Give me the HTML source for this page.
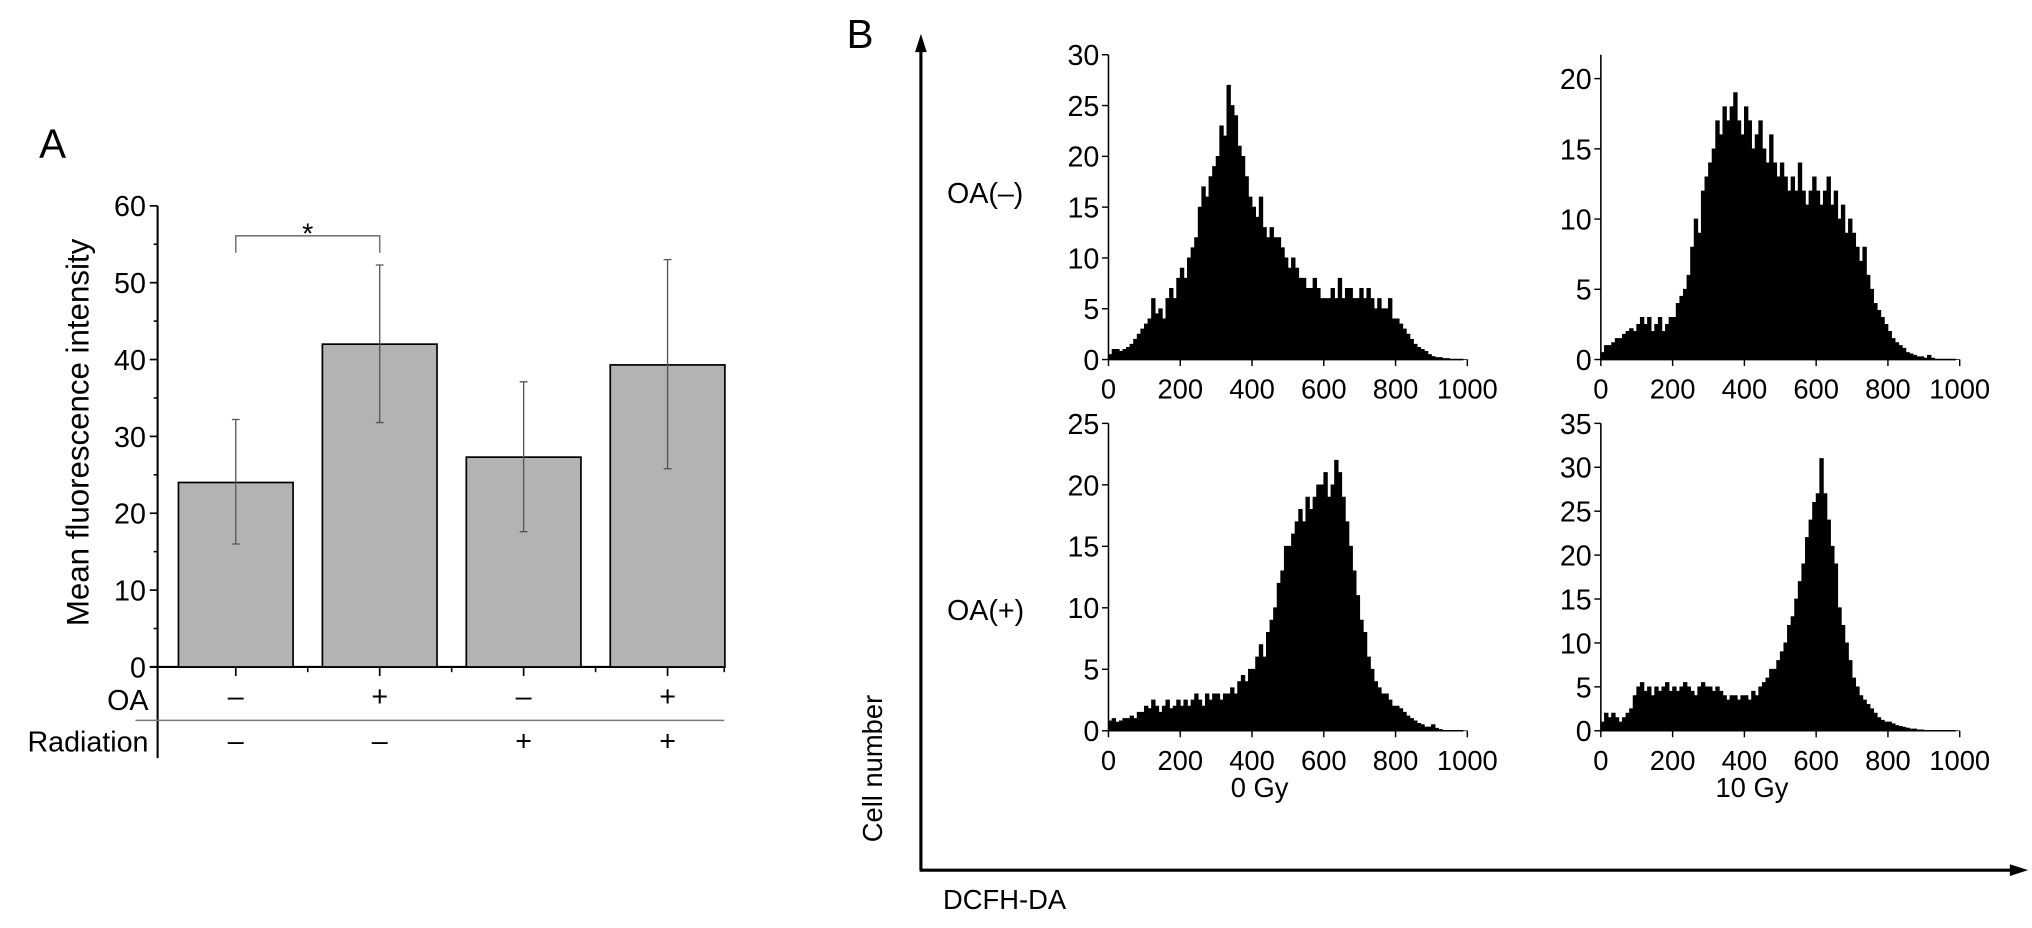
<!DOCTYPE html>
<html><head><meta charset="utf-8"><style>
html,body{margin:0;padding:0;background:#fff;}
svg{display:block;font-family:"Liberation Sans Narrow","Liberation Sans",sans-serif;}
</style></head><body>
<svg id="fig" width="2032" height="928" viewBox="0 0 1560 712.4" xmlns="http://www.w3.org/2000/svg">
<g id="panelA"></g>
<g id="panelB"></g>
</svg>
<script>
// ---------- Panel A data ----------
const barCategories = ["OA-/Rad-", "OA+/Rad-", "OA-/Rad+", "OA+/Rad+"];
const barValues = [24.0, 42.0, 27.3, 39.3];
const errLow = [16.0, 31.8, 17.6, 25.8];
const errHigh = [32.2, 52.3, 37.1, 53.0];
const oaSigns = ["\u2013", "+", "\u2013", "+"];
const radSigns = ["\u2013", "\u2013", "+", "+"];
const yTicksA = [0, 10, 20, 30, 40, 50, 60];

// ---------- Panel B data (bins of 10 units, 0..1000) ----------
const histTL = [0.5,1,1,0.8,1,1.2,1.5,2,2.5,3, 3.5,4,6,4.5,5,4,6,7,6,8, 9,8,10,11,12,15,17,16,18,19, 20,23,22,27,25,24,21,20,18,16, 15,14,16,13,12,13,12,12,11,10, 9,10,9,8,8,7,7,8,7,6, 6,6,7,6,8,6,7,7,6,6, 7,6,7,6,5,6,5,5,6,4, 4,3.5,3,2.5,2,1.5,1.2,1,0.8,0.5, 0.3,0.2,0.2,0.1,0.1,0,0,0,0,0];
const histTR = [0.5,1,1,1.2,1.5,1.5,1.8,2,2.2,2, 2.5,3,2.5,3,2,2.5,3,2,2.5,3, 3,4,4.5,5,6,8,10,9,12,13, 14,15,17,16,18,17,18,19,17,16, 18,17,15,16,17,15,14,16,14,13, 14,13,12,13,12,14,12,11,12,13, 12,11,12,13,11,12,10,11,9,10, 9,8,7,8,6,5,4,3.5,3,2.5, 2,1.5,1.2,1,0.8,0.5,0.4,0.3,0.2,0.2, 0.1,0.3,0.1,0,0,0,0,0,0,0];
const histBL = [0.8,1,0.7,0.8,1,1,1.2,1,1.5,1.5, 2,1.8,2.5,2,1.5,2,2.5,1.8,2,2.5, 2,2.5,2,2.5,3,2.5,2,3,2.5,3, 3,2.5,3,3,3.5,3,4,4.5,4,5, 5,6,7,6,8,9,10,12,13,15, 15,16,17,18,17,19,18,19,20,20, 21,19,20,22,21,19,17,15,13,11, 9,8,6,5,4,3.5,3,3,2.5,2, 2,1.8,1.5,1.2,1,0.8,0.6,0.5,0.3,0.3, 0.5,0.2,0.1,0,0,0,0,0,0,0];
const histBR = [1,2,1.5,2,1.5,1,1.5,2,2.5,4, 5,5.5,4.5,5,4,5,4.5,5,5.5,4.5, 5,4.5,5,5.5,5,4.5,4,5,5.5,5, 5,4.5,5,4.5,4,3.5,4,4,3.5,4, 4,3.5,4.5,4,5,5.5,6,7,7,8, 9,10,12,13,15,17,19,22,24,26, 27,31,27,24,21,19,14,12,10,8, 6,5,4,3.5,3,2.5,2,1.5,1.2,1, 1,0.8,0.6,0.5,0.4,0.3,0.2,0.2,0.1,0.1, 0,0,0,0,0,0,0,0,0,0];
const xTicksB = [0, 200, 400, 600, 800, 1000];
const yTicksTL = [0, 5, 10, 15, 20, 25, 30];
const yTicksTR = [0, 5, 10, 15, 20];
const yTicksBL = [0, 5, 10, 15, 20, 25];
const yTicksBR = [0, 5, 10, 15, 20, 25, 30, 35];

const NS = "http://www.w3.org/2000/svg";
function mk(parent, tag, attrs, text){
  const e = document.createElementNS(NS, tag);
  for (const k in attrs) e.setAttribute(k, attrs[k]);
  if (text !== undefined) e.textContent = text;
  parent.appendChild(e); return e;
}

// ---------- Panel A ----------
const A = document.getElementById('panelA');
const ax0 = 121, ay0 = 512, ay60 = 158;
const yA = v => ay0 - (v / 60) * (ay0 - ay60);
const bx0 = 137, bw = 88, bstep = 110.5;
const xA = i => bx0 + i * bstep;

let t = mk(A, 'text', {x: 30, y: 121, 'font-size': 31}, 'A');
 

let yl = mk(A, 'line', {x1: ax0, y1: ay60, x2: ax0, y2: 582, stroke: '#000', 'stroke-width': 1.6});
 
let xl = mk(A, 'line', {x1: ax0 - 6, y1: ay0, x2: 557, y2: ay0, stroke: '#000', 'stroke-width': 1.6});
 

yTicksA.forEach(v => {
  const y = yA(v);
  let tk = mk(A, 'line', {x1: ax0 - 6, y1: y, x2: ax0, y2: y, stroke: '#000', 'stroke-width': 1.3});
   
  let lb = mk(A, 'text', {x: ax0 - 9, y: y + 8, 'font-size': 22, 'text-anchor': 'end'}, String(v));
   
  if (v < 60) {
    const ym = yA(v + 5);
    let mt = mk(A, 'line', {x1: ax0 - 3, y1: ym, x2: ax0, y2: ym, stroke: '#000', 'stroke-width': 1.2});
     
  }
});

let ytA = mk(A, 'text', {x: 0, y: 0, 'font-size': 24, 'text-anchor': 'middle', transform: 'translate(68,332) rotate(-90)'}, 'Mean fluorescence intensity');
 

barValues.forEach((v, i) => {
  const x = xA(i);
  let r = mk(A, 'rect', {x: x, y: yA(v), width: bw, height: ay0 - yA(v), fill: '#b3b3b3', stroke: '#000', 'stroke-width': 1.3});
   
  const cx = x + bw / 2;
  let e = mk(A, 'path', {d: `M${cx},${yA(errLow[i])}V${yA(errHigh[i])}M${cx-3},${yA(errLow[i])}H${cx+3}M${cx-3},${yA(errHigh[i])}H${cx+3}`, stroke: '#555', 'stroke-width': 1, fill: 'none'});
   
  let tk = mk(A, 'line', {x1: cx, y1: ay0, x2: cx, y2: ay0 + 7, stroke: '#000', 'stroke-width': 1.3});
   
  const bxx = Math.min(x + bw + (bstep - bw) / 2, 556);
  let tk2 = mk(A, 'line', {x1: bxx, y1: ay0, x2: bxx, y2: ay0 + 4, stroke: '#000', 'stroke-width': 1.2});
   
  let o = mk(A, 'text', {x: cx, y: 542, 'font-size': 22, 'text-anchor': 'middle'}, oaSigns[i]);
   
  let rd = mk(A, 'text', {x: cx, y: 576, 'font-size': 22, 'text-anchor': 'middle'}, radSigns[i]);
   
});
let oal = mk(A, 'text', {x: 114, y: 545, 'font-size': 22, 'text-anchor': 'end'}, 'OA');
 
let rl = mk(A, 'text', {x: 114, y: 577, 'font-size': 22, 'text-anchor': 'end'}, 'Radiation');
 
let sep = mk(A, 'line', {x1: 104, y1: 553, x2: 556, y2: 553, stroke: '#777', 'stroke-width': 1.2});
 
const c1 = xA(0) + bw / 2, c2 = xA(1) + bw / 2;
let br = mk(A, 'path', {d: `M${c1},194V181H${c2}V194`, stroke: '#777', 'stroke-width': 1.2, fill: 'none'});
 
let st = mk(A, 'text', {x: (c1 + c2) / 2, y: 187, 'font-size': 22, 'text-anchor': 'middle'}, '*');
 

// ---------- Panel B ----------
const B = document.getElementById('panelB');
let bl = mk(B, 'text', {x: 650, y: 37, 'font-size': 31}, 'B');
 
let va = mk(B, 'path', {d: 'M707,668V36', stroke: '#000', 'stroke-width': 2.4, fill: 'none'});
 
let vh = mk(B, 'polygon', {points: '707,26 702.5,40 711.5,40', fill: '#000'});
 
let ha = mk(B, 'path', {d: 'M706,668H1546', stroke: '#000', 'stroke-width': 2.4, fill: 'none'});
 
let hh = mk(B, 'polygon', {points: '1557,668 1543,663.5 1543,672.5', fill: '#000'});
 
let cn = mk(B, 'text', {x: 0, y: 0, 'font-size': 21, 'text-anchor': 'middle', transform: 'translate(677,590) rotate(-90)'}, 'Cell number');
 
let dc = mk(B, 'text', {x: 724, y: 698, 'font-size': 21}, 'DCFH-DA');
 

function histogram(name, data, yTicks, ymax, ox, oy, top){
  const g = mk(B, 'g', {});
   
  const xw = 275.5;
  const X = v => ox + v / 1000 * xw;
  const Y = v => oy - v / ymax * (oy - top);
  let d = `M${X(0)},${Y(0)}`;
  data.forEach((v, i) => { d += `L${X(i*10)},${Y(v)}L${X(i*10+10)},${Y(v)}`; });
  d += `L${X(1000)},${Y(0)}Z`;
  let a = mk(g, 'path', {d: d, fill: '#000', stroke: '#000', 'stroke-width': 0.6});
   
  let yax = mk(g, 'line', {x1: ox, y1: oy, x2: ox, y2: top, stroke: '#000', 'stroke-width': 1.2});
   
  let xax = mk(g, 'line', {x1: ox, y1: oy, x2: X(1000) - 3, y2: oy, stroke: '#000', 'stroke-width': 1.2});
   
  yTicks.forEach(v => {
    let tk = mk(g, 'line', {x1: ox - 5, y1: Y(v), x2: ox, y2: Y(v), stroke: '#000', 'stroke-width': 1.1});
     
    let lb = mk(g, 'text', {x: ox - 7, y: Y(v) + 8, 'font-size': 22, 'text-anchor': 'end'}, String(v));
     
  });
  xTicksB.forEach(v => {
    let tk = mk(g, 'line', {x1: X(v), y1: oy, x2: X(v), y2: oy + 5, stroke: '#000', 'stroke-width': 1.1});
     
    let lb = mk(g, 'text', {x: X(v), y: oy + 30, 'font-size': 21, 'text-anchor': 'middle'}, String(v));
     
  });
}
histogram('hist-oa-minus-0gy', histTL, yTicksTL, 30, 851, 276, 42);
histogram('hist-oa-minus-10gy', histTR, yTicksTR, 21.7, 1229, 276, 42);
histogram('hist-oa-plus-0gy', histBL, yTicksBL, 25, 851, 561, 325);
histogram('hist-oa-plus-10gy', histBR, yTicksBR, 35, 1229, 561, 325);

let l1 = mk(B, 'text', {x: 727, y: 156, 'font-size': 22}, 'OA(\u2013)');
 
let l2 = mk(B, 'text', {x: 727, y: 476, 'font-size': 22}, 'OA(+)');
 
let l3 = mk(B, 'text', {x: 967, y: 612, 'font-size': 21, 'text-anchor': 'middle'}, '0 Gy');
 
let l4 = mk(B, 'text', {x: 1345, y: 612, 'font-size': 21, 'text-anchor': 'middle'}, '10 Gy');
 
</script>
</body></html>
